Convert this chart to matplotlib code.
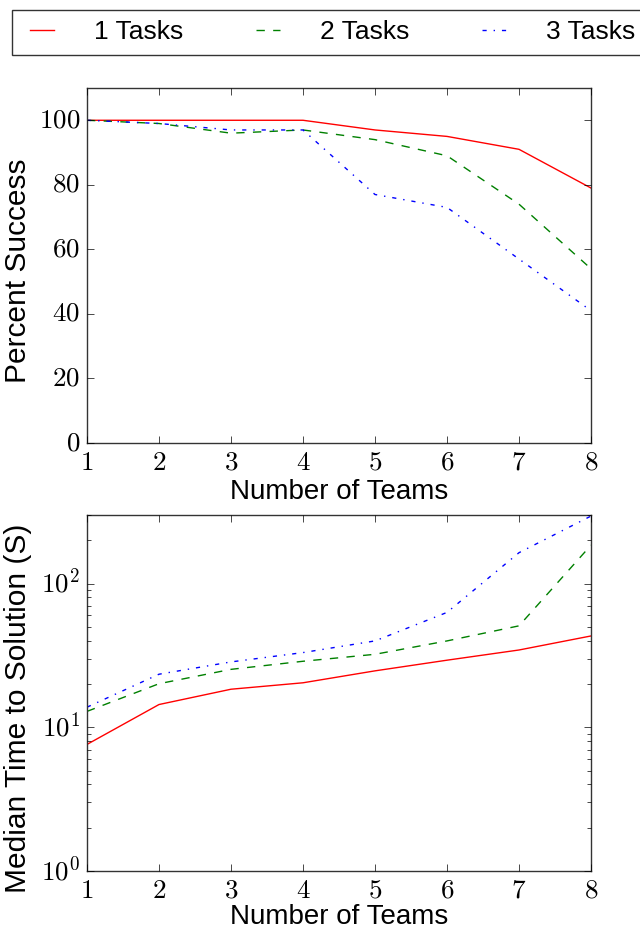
import math
import matplotlib
matplotlib.use("Agg")
import matplotlib.pyplot as plt
from matplotlib.ticker import FuncFormatter, LogLocator, FixedLocator

plt.style.use('classic')
plt.rcParams['mathtext.fontset'] = 'cm'
plt.rcParams['font.family'] = ['Liberation Sans', 'DejaVu Sans']

teams = [1, 2, 3, 4, 5, 6, 7, 8]
labels = ['1 Tasks', '2 Tasks', '3 Tasks']

success_1 = [100, 100, 100, 100, 97, 95, 91, 79]
success_2 = [100, 99, 96, 97, 94, 89, 74, 54]
success_3 = [100, 99, 97, 97, 77, 73, 57, 41]

time_1 = [7.6, 14.4, 18.4, 20.4, 24.7, 29.3, 34.5, 43.2]
time_2 = [12.9, 20.1, 25.3, 28.8, 32.2, 39.9, 50.8, 185]
time_3 = [13.8, 23.4, 28.5, 33.1, 39.9, 63, 164, 295]

colors = ['r', 'g', 'b']
styles = ['-', '--', '-.']

fig = plt.figure(figsize=(6.4, 9.31), dpi=100, facecolor='white')
ax1 = fig.add_axes([87/640, 1-443/931, (591-87)/640, (443-88)/931])
ax2 = fig.add_axes([87/640, 1-871/931, (591-87)/640, (871-515)/931])

handles = []
for ys, c, ls, lab in zip([success_1, success_2, success_3], colors, styles, labels):
    h, = ax1.plot(teams, ys, color=c, linestyle=ls, linewidth=1, label=lab)
    handles.append(h)
for ys, c, ls in zip([time_1, time_2, time_3], colors, styles):
    ax2.plot(teams, ys, color=c, linestyle=ls, linewidth=1)

tickfmt = FuncFormatter(lambda v, p: r'$%d$' % round(v))
for ax in (ax1, ax2):
    ax.set_xlim(1, 8)
    ax.xaxis.set_major_locator(FixedLocator(teams))
    ax.xaxis.set_major_formatter(tickfmt)
    ax.set_xlabel('Number of Teams', fontsize=20)
    ax.tick_params(axis='both', which='major', labelsize=19.5, direction='in', length=5, pad=5)
    ax.tick_params(axis='both', which='minor', direction='in', length=3)
    for s in ax.spines.values():
        s.set_color('#333333')
ax1.xaxis.set_label_coords(0.5, -36/355)
ax2.xaxis.set_label_coords(0.5, -33/356)

ax1.set_ylim(0, 110)
ax1.yaxis.set_major_locator(FixedLocator([0, 20, 40, 60, 80, 100]))
ax1.yaxis.set_major_formatter(tickfmt)
ax1.set_ylabel('Percent Success', fontsize=21.5)
ax1.yaxis.set_label_coords((32-87)/504, 0.5 - 5/355)

ax2.set_yscale('log')
ax2.set_ylim(1, 300)
ax2.yaxis.set_major_locator(LogLocator(base=10))
ax2.yaxis.set_minor_locator(LogLocator(base=10, subs=range(2, 10)))
ax2.yaxis.set_major_formatter(FuncFormatter(lambda v, p: r'$10^{%d}$' % round(math.log10(v))))
ax2.set_ylabel('Median Time to Solution (S)', fontsize=21.5)
ax2.yaxis.set_label_coords((32-87)/504, 0.5 - 15/356)

leg = fig.legend(handles=handles, labels=labels, loc='lower left',
                 bbox_to_anchor=(12/640, 1-55/931, 0.99, 46/931), mode='expand',
                 ncol=3, fontsize=19, frameon=True, fancybox=False, borderpad=0.4,
                 handlelength=1.5, handletextpad=1.2, borderaxespad=0)
leg.get_frame().set_edgecolor('#333333')

fig.savefig('out.png', dpi=100, facecolor='white')
